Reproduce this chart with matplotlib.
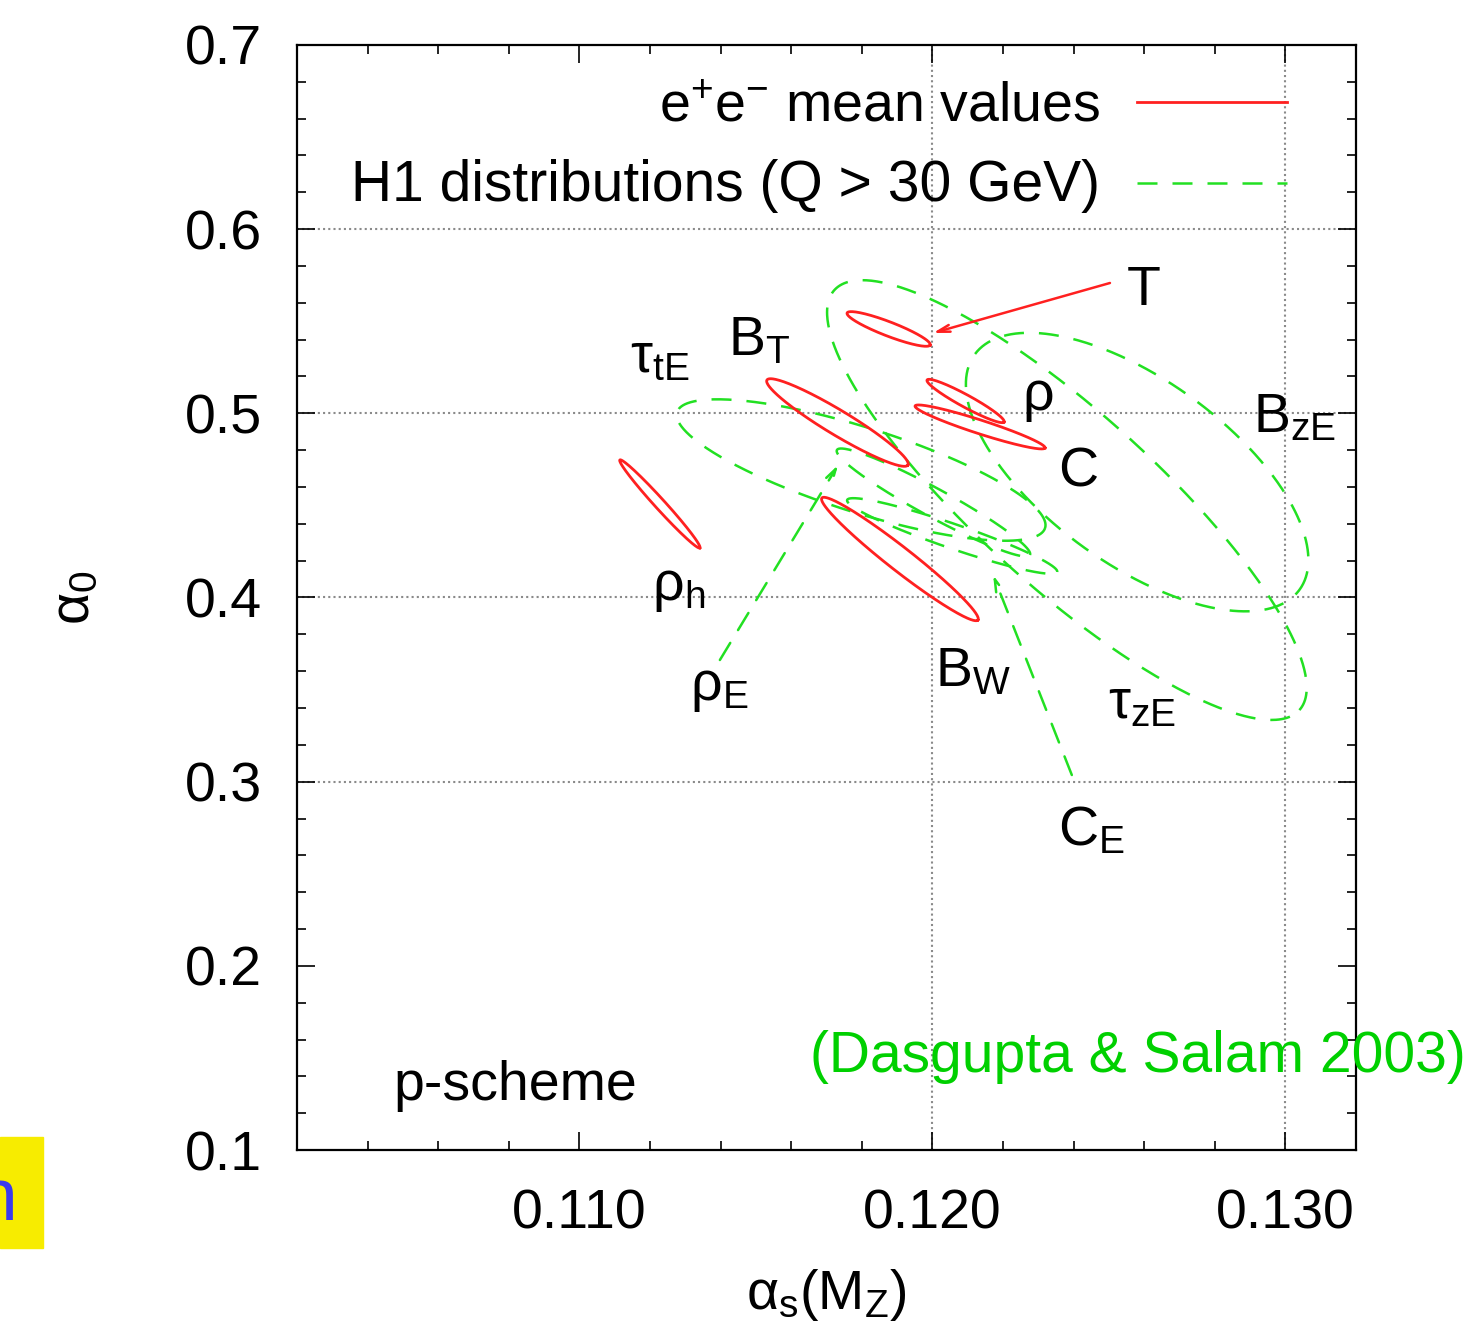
import numpy as np
import matplotlib
matplotlib.use('Agg')
import matplotlib.pyplot as plt
from matplotlib.patches import Rectangle

plt.rcParams['font.family'] = ['Liberation Sans', 'DejaVu Sans']
plt.rcParams['mathtext.fontset'] = 'custom'
plt.rcParams['mathtext.rm'] = 'Liberation Sans'
plt.rcParams['mathtext.it'] = 'Liberation Sans:italic'
plt.rcParams['mathtext.bf'] = 'Liberation Sans:bold'

# e+e- mean values (red): centre, major semi-axis vector, minor/major ratio
ee_cx = [0.11876, 0.11731, 0.12094, 0.12135, 0.11228, 0.11908]
ee_cy = [0.5458, 0.4950, 0.5067, 0.4926, 0.4508, 0.4209]
ee_ax = [0.001176, 0.001997, 0.001091, 0.001841, 0.001133, 0.00221]
ee_ay = [-0.00869, -0.02308, -0.01140, -0.01140, -0.02389, -0.03312]
ee_ratio = [0.16, 0.15, 0.14, 0.10, 0.085, 0.12]

# H1 distributions (green): tau_zE, B_zE, tau_tE, rho_E, C_E
h1_cx = [0.12381, 0.12580, 0.11798, 0.12003, 0.12056]
h1_cy = [0.4529, 0.4681, 0.4692, 0.45158, 0.43339]
h1_ax = [0.006586, 0.004603, 0.005212, 0.002734, 0.002975]
h1_ay = [-0.11403, -0.0638, -0.03149, -0.02851, -0.01955]
h1_ratio = [0.28, 0.46, 0.22, 0.13, 0.11]

# labels
lab_text = ['T', r'B$_{\mathrm{T}}$', r'τ$_{\mathrm{tE}}$', 'ρ', 'C', r'B$_{\mathrm{zE}}$',
            r'ρ$_{\mathrm{h}}$', r'ρ$_{\mathrm{E}}$', r'B$_{\mathrm{W}}$', r'τ$_{\mathrm{zE}}$',
            r'C$_{\mathrm{E}}$']
lab_x = [0.12551, 0.11421, 0.11143, 0.12254, 0.12356, 0.12908,
         0.11206, 0.11313, 0.12007, 0.12498, 0.12356]
lab_y = [0.55881, 0.53167, 0.52243, 0.50180, 0.46000, 0.48986,
         0.39864, 0.34434, 0.35194, 0.33457, 0.26561]

# arrows: (from, to)
arr_x0 = [0.12503, 0.11398, 0.12395]
arr_y0 = [0.57076, 0.36606, 0.30362]
arr_x1 = [0.12002, 0.11733, 0.12172]
arr_y1 = [0.54361, 0.47194, 0.41221]

xticks = [0.110, 0.120, 0.130]
yticks = [0.1, 0.2, 0.3, 0.4, 0.5, 0.6, 0.7]
xgrid = [0.120, 0.130]
ygrid = [0.3, 0.4, 0.5, 0.6]

RED = '#ff2020'
GREEN = '#22e022'
FS = 40

fig = plt.figure(figsize=(14.76, 13.26), dpi=100)
ax = fig.add_axes([0.2012, 0.1327, 0.7175, 0.8334])
ax.set_xlim(0.102, 0.132)
ax.set_ylim(0.1, 0.7)

# pixel scale so that minor axes are perpendicular on screen
bb = ax.get_window_extent()
kx = bb.width / 0.030
ky = bb.height / 0.6


def ellipse(cx, cy, ux, uy, r):
    t = np.linspace(0, 2 * np.pi, 500)
    vx = -uy * ky * r / kx
    vy = ux * kx * r / ky
    return cx + ux * np.cos(t) + vx * np.sin(t), cy + uy * np.cos(t) + vy * np.sin(t)


for g in xgrid:
    ax.axvline(g, color='#8a8a8a', lw=1.5, ls=(0, (1, 1.5)), zorder=0)
for g in ygrid:
    ax.axhline(g, color='#8a8a8a', lw=1.5, ls=(0, (1, 1.5)), zorder=0)

for i in range(len(ee_cx)):
    ex, ey = ellipse(ee_cx[i], ee_cy[i], ee_ax[i], ee_ay[i], ee_ratio[i])
    ax.plot(ex, ey, color=RED, lw=2.0, zorder=3)

for i in range(len(h1_cx)):
    ex, ey = ellipse(h1_cx[i], h1_cy[i], h1_ax[i], h1_ay[i], h1_ratio[i])
    ax.plot(ex, ey, color=GREEN, lw=1.8, ls=(0, (8, 6)), zorder=2)

for i in range(len(arr_x0)):
    col = RED if i == 0 else GREEN
    ls = '-' if i == 0 else (0, (8, 6))
    ax.annotate('', xy=(arr_x1[i], arr_y1[i]), xytext=(arr_x0[i], arr_y0[i]),
                arrowprops=dict(arrowstyle='->,head_length=0.9,head_width=0.25',
                                color=col, lw=1.8, linestyle=ls,
                                shrinkA=0, shrinkB=0), zorder=4)

for t, x, y in zip(lab_text, lab_x, lab_y):
    ax.text(x, y, t, fontsize=FS, ha='left', va='baseline', zorder=5)

# legend drawn by hand, gnuplot style
ax.text(0.7583, 0.9430, r'e$^{+}$e$^{-}$ mean values', transform=ax.transAxes,
        fontsize=FS, ha='right', va='center')
ax.plot([0.7932, 0.9348], [0.9484, 0.9484], transform=ax.transAxes, color=RED, lw=2.0)
ax.text(0.7583, 0.8720, 'H1 distributions (Q > 30 GeV)', transform=ax.transAxes,
        fontsize=FS + 1, ha='right', va='center')
ax.plot([0.7932, 0.9348], [0.8751, 0.8751], transform=ax.transAxes, color=GREEN, lw=1.8,
        ls=(0, (8, 6)))

ax.text(0.0907, 0.0452, 'p-scheme', transform=ax.transAxes, fontsize=FS,
        ha='left', va='baseline')
ax.text(0.4844, 0.0706, '(Dasgupta & Salam 2003)', transform=ax.transAxes, fontsize=FS + 1,
        ha='left', va='baseline', color='#00d000', clip_on=False)

ax.set_xticks(xticks)
ax.set_xticklabels(['%.3f' % v for v in xticks])
ax.set_yticks(yticks)
ax.set_yticklabels(['%.1f' % v for v in yticks])
ax.set_xticks(np.arange(0.104, 0.1315, 0.002), minor=True)
ax.set_yticks(np.arange(0.12, 0.70, 0.02), minor=True)
ax.tick_params(which='both', direction='in', top=True, right=True, width=1.2)
ax.tick_params(which='major', length=13, labelsize=FS)
ax.tick_params(which='minor', length=6.5)
ax.tick_params(axis='y', pad=25)
ax.tick_params(axis='x', pad=28)
for s in ax.spines.values():
    s.set_linewidth(1.6)

ax.set_xlabel(r'α$_{\mathrm{s}}$(M$_{\mathrm{Z}}$)', fontsize=FS, va='center')
ax.xaxis.set_label_coords(0.5, -0.131)
ax.set_ylabel(r'α$_{0}$', fontsize=FS, va='center', ha='center')
ax.yaxis.set_label_coords(-0.2096, 0.5)

# yellow box cut at left edge of the slide, as in the source
fig.patches.append(Rectangle((0, 1 - 1248 / 1326), 43 / 1476, 111 / 1326,
                             transform=fig.transFigure, color='#f7ec00', zorder=0))
fig.text(18 / 1476, 1 - 1200 / 1326, 'n', color='#3a3aee', fontsize=54,
         ha='right', va='center')

fig.savefig('out.png', dpi=100)
